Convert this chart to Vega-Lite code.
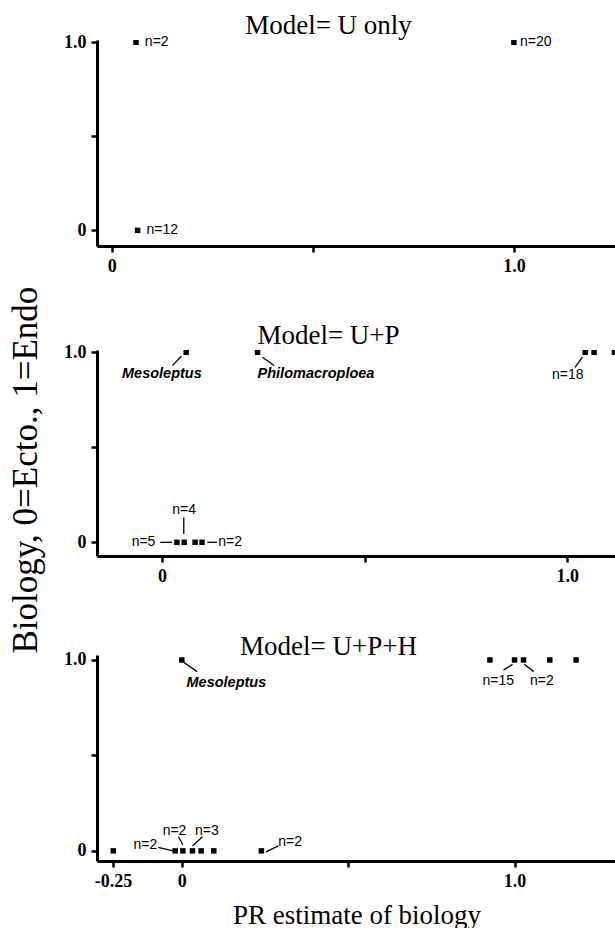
{
  "$schema": "https://vega.github.io/schema/vega-lite/v6.json",
  "background": "white",
  "padding": {"left": 8, "top": 12, "right": 0, "bottom": 0},
  "spacing": 47,
  "title": {"text": "Biology, 0=Ecto., 1=Endo", "orient": "left", "anchor": "middle", "font": "Liberation Serif", "fontSize": 35, "fontWeight": "normal", "color": "black", "offset": 20},
  "config": {
    "view": {"stroke": null},
    "axis": {"domainColor": "black", "domainWidth": 3, "tickColor": "black", "tickWidth": 2.5, "tickSize": 6, "labelFont": "Liberation Serif", "labelFontWeight": "bold", "labelFontSize": 18, "labelColor": "black", "grid": false, "labelPadding": 5, "labelFlush": false},
    "text": {"font": "Liberation Sans", "fontSize": 14, "color": "black"}
  },
  "datasets": {
    "p1_pts": [{"x": 0.06, "y": 1}, {"x": 0.064, "y": 0}, {"x": 1.0, "y": 1}],
    "p1_lab": [{"x": 0.082, "y": 1, "t": "n=2"}, {"x": 0.086, "y": 0, "t": "n=12"}, {"x": 1.015, "y": 1, "t": "n=20"}],
    "p2_pts": [{"x": 0.06, "y": 1}, {"x": 0.236, "y": 1}, {"x": 1.044, "y": 1}, {"x": 1.066, "y": 1}, {"x": 1.116, "y": 1}, {"x": 0.037, "y": 0}, {"x": 0.055, "y": 0}, {"x": 0.082, "y": 0}, {"x": 0.099, "y": 0}],
    "p2_genus_c": [{"x": 0.0, "y": 0.886, "t": "Mesoleptus"}],
    "p2_genus_l": [{"x": 0.236, "y": 0.886, "t": "Philomacroploea"}],
    "p2_lab_c": [{"x": 1.001, "y": 0.878, "t": "n=18"}, {"x": 0.055, "y": 0.168, "t": "n=4"}],
    "p2_lab_l": [{"x": 0.139, "y": 0.0, "t": "n=2"}],
    "p2_lab_r": [{"x": -0.016, "y": 0.0, "t": "n=5"}],
    "p2_lines": [
      {"x": 0.048, "y": 0.979, "x2": 0.026, "y2": 0.930},
      {"x": 0.248, "y": 0.974, "x2": 0.277, "y2": 0.930},
      {"x": 1.019, "y": 0.921, "x2": 1.037, "y2": 0.974},
      {"x": 0.054, "y": 0.131, "x2": 0.054, "y2": 0.044},
      {"x": -0.004, "y": 0.0, "x2": 0.025, "y2": 0.0},
      {"x": 0.112, "y": 0.0, "x2": 0.136, "y2": 0.0}
    ],
    "p3_pts": [{"x": 0.0, "y": 1}, {"x": 0.926, "y": 1}, {"x": 1.0, "y": 1}, {"x": 1.027, "y": 1}, {"x": 1.106, "y": 1}, {"x": 1.185, "y": 1},
               {"x": -0.206, "y": 0}, {"x": -0.02, "y": 0}, {"x": 0.003, "y": 0}, {"x": 0.032, "y": 0}, {"x": 0.058, "y": 0}, {"x": 0.096, "y": 0}, {"x": 0.239, "y": 0}],
    "p3_genus_l": [{"x": 0.014, "y": 0.877, "t": "Mesoleptus"}],
    "p3_lab_c": [{"x": 0.951, "y": 0.889, "t": "n=15"}, {"x": 1.082, "y": 0.889, "t": "n=2"}, {"x": -0.022, "y": 0.105, "t": "n=2"}, {"x": 0.075, "y": 0.105, "t": "n=3"}],
    "p3_lab_r": [{"x": -0.074, "y": 0.032, "t": "n=2"}],
    "p3_lab_l": [{"x": 0.29, "y": 0.049, "t": "n=2"}],
    "p3_lines": [
      {"x": 0.003, "y": 0.991, "x2": 0.046, "y2": 0.939},
      {"x": 0.967, "y": 0.947, "x2": 0.994, "y2": 0.977},
      {"x": 1.029, "y": 0.977, "x2": 1.058, "y2": 0.939},
      {"x": -0.071, "y": 0.018, "x2": -0.026, "y2": 0.0},
      {"x": -0.01, "y": 0.074, "x2": 0.003, "y2": 0.032},
      {"x": 0.062, "y": 0.074, "x2": 0.032, "y2": 0.026},
      {"x": 0.253, "y": -0.005, "x2": 0.29, "y2": 0.026}
    ]
  },
  "vconcat": [
    {
      "width": 519, "height": 206,
      "title": {"text": "Model= U only", "font": "Liberation Serif", "fontSize": 27, "fontWeight": "normal", "color": "black", "anchor": "middle", "dx": -28, "dy": 13, "offset": 6},
      "encoding": {
        "x": {"field": "x", "type": "quantitative", "scale": {"domain": [-0.037, 1.254], "nice": false, "zero": false}, "axis": {"values": [0, 0.5, 1], "labelExpr": "datum.value == 0 ? '0' : datum.value == 1 ? '1.0' : ''", "title": null}},
        "y": {"field": "y", "type": "quantitative", "scale": {"domain": [-0.083, 1.012], "nice": false, "zero": false}, "axis": {"values": [0, 0.5, 1], "labelExpr": "datum.value == 1 ? '1.0' : datum.value == 0 ? '0' : ''", "title": null}}
      },
      "layer": [
        {"data": {"name": "p1_pts"}, "mark": {"type": "square", "size": 30, "color": "black", "opacity": 1, "clip": true}},
        {"data": {"name": "p1_lab"}, "mark": {"type": "text", "align": "left", "baseline": "middle"}, "encoding": {"text": {"field": "t", "type": "nominal"}}}
      ]
    },
    {
      "width": 519, "height": 206,
      "title": {"text": "Model= U+P", "font": "Liberation Serif", "fontSize": 27, "fontWeight": "normal", "color": "black", "anchor": "middle", "dx": -28, "dy": 13, "offset": 6},
      "encoding": {
        "x": {"field": "x", "type": "quantitative", "scale": {"domain": [-0.16, 1.12], "nice": false, "zero": false}, "axis": {"values": [0, 0.5, 1], "labelExpr": "datum.value == 0 ? '0' : datum.value == 1 ? '1.0' : ''", "title": null}},
        "y": {"field": "y", "type": "quantitative", "scale": {"domain": [-0.072, 1.012], "nice": false, "zero": false}, "axis": {"values": [0, 0.5, 1], "labelExpr": "datum.value == 1 ? '1.0' : datum.value == 0 ? '0' : ''", "title": null}}
      },
      "layer": [
        {"data": {"name": "p2_lines"}, "mark": {"type": "rule", "color": "black", "strokeWidth": 1.3}, "encoding": {"x2": {"field": "x2"}, "y2": {"field": "y2"}}},
        {"data": {"name": "p2_pts"}, "mark": {"type": "square", "size": 30, "color": "black", "opacity": 1, "clip": true}},
        {"data": {"name": "p2_genus_c"}, "mark": {"type": "text", "align": "center", "baseline": "middle", "fontStyle": "italic", "fontWeight": "bold", "fontSize": 14.5}, "encoding": {"text": {"field": "t", "type": "nominal"}}},
        {"data": {"name": "p2_genus_l"}, "mark": {"type": "text", "align": "left", "baseline": "middle", "fontStyle": "italic", "fontWeight": "bold", "fontSize": 14.5}, "encoding": {"text": {"field": "t", "type": "nominal"}}},
        {"data": {"name": "p2_lab_c"}, "mark": {"type": "text", "align": "center", "baseline": "middle"}, "encoding": {"text": {"field": "t", "type": "nominal"}}},
        {"data": {"name": "p2_lab_l"}, "mark": {"type": "text", "align": "left", "baseline": "middle"}, "encoding": {"text": {"field": "t", "type": "nominal"}}},
        {"data": {"name": "p2_lab_r"}, "mark": {"type": "text", "align": "right", "baseline": "middle"}, "encoding": {"text": {"field": "t", "type": "nominal"}}}
      ]
    },
    {
      "width": 519, "height": 206,
      "title": {"text": "Model= U+P+H", "font": "Liberation Serif", "fontSize": 27, "fontWeight": "normal", "color": "black", "anchor": "middle", "dx": -28, "dy": 16, "offset": 6},
      "encoding": {
        "x": {"field": "x", "type": "quantitative", "scale": {"domain": [-0.255, 1.305], "nice": false, "zero": false}, "axis": {"values": [-0.207, 0, 0.5, 1], "labelExpr": "datum.value < -0.1 ? '-0.25' : datum.value == 0 ? '0' : datum.value == 1 ? '1.0' : ''", "title": "PR estimate of biology", "titleFont": "Liberation Serif", "titleFontSize": 27, "titleFontWeight": "normal", "titleColor": "black", "titlePadding": 12}},
        "y": {"field": "y", "type": "quantitative", "scale": {"domain": [-0.053, 1.026], "nice": false, "zero": false}, "axis": {"values": [0, 0.5, 1], "labelExpr": "datum.value == 1 ? '1.0' : datum.value == 0 ? '0' : ''", "title": null}}
      },
      "layer": [
        {"data": {"name": "p3_lines"}, "mark": {"type": "rule", "color": "black", "strokeWidth": 1.3}, "encoding": {"x2": {"field": "x2"}, "y2": {"field": "y2"}}},
        {"data": {"name": "p3_pts"}, "mark": {"type": "square", "size": 30, "color": "black", "opacity": 1, "clip": true}},
        {"data": {"name": "p3_genus_l"}, "mark": {"type": "text", "align": "left", "baseline": "middle", "fontStyle": "italic", "fontWeight": "bold", "fontSize": 14.5}, "encoding": {"text": {"field": "t", "type": "nominal"}}},
        {"data": {"name": "p3_lab_c"}, "mark": {"type": "text", "align": "center", "baseline": "middle"}, "encoding": {"text": {"field": "t", "type": "nominal"}}},
        {"data": {"name": "p3_lab_l"}, "mark": {"type": "text", "align": "left", "baseline": "middle"}, "encoding": {"text": {"field": "t", "type": "nominal"}}},
        {"data": {"name": "p3_lab_r"}, "mark": {"type": "text", "align": "right", "baseline": "middle"}, "encoding": {"text": {"field": "t", "type": "nominal"}}}
      ]
    }
  ]
}
